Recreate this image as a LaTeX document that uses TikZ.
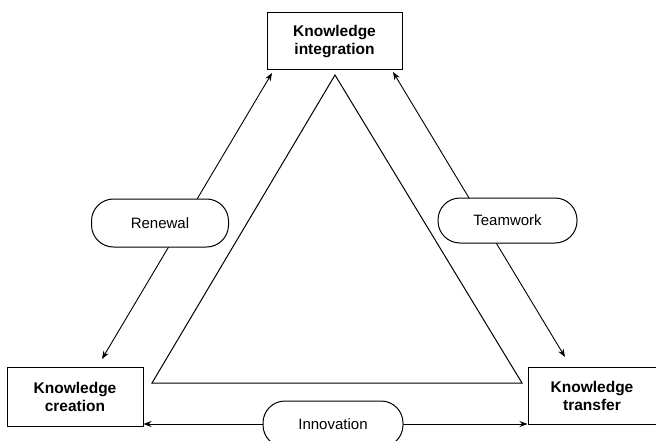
\documentclass[tikz,border=0pt]{standalone}
\usepackage{fontspec}
\setmainfont{Liberation Sans}
\usetikzlibrary{arrows.meta}
\begin{document}
\begin{tikzpicture}[x=1pt,y=-1pt,
  kbox/.style={draw,line width=1pt,fill=white,inner sep=0pt,align=center,
    font=\fontsize{15.5}{18}\selectfont\bfseries},
  pill/.style={draw,line width=1pt,fill=white,rounded corners=22pt,inner sep=0pt,
    font=\fontsize{15}{18}\selectfont},
  link/.style={line width=0.9pt,{Stealth[length=8pt,width=6pt]}-{Stealth[length=8pt,width=6pt]}},
  tri/.style={line width=1pt}]
\useasboundingbox (0,0) rectangle (656,441);
\clip (0,0) rectangle (656,441);
% boxes
\node[kbox,minimum width=135pt,minimum height=57pt] (integ) at (334.5,41.5) {Knowledge\\integration};
\node[kbox,minimum width=136pt,minimum height=59pt] (creat) at (75,396.5) {Knowledge\\creation};
\node[kbox,minimum width=128pt,minimum height=57pt] (trans) at (592,395.5) {Knowledge\\transfer};
% triangle
\coordinate (apex) at (335,75);
\coordinate (bl) at (152,383);
\coordinate (br) at (522,383);
\draw[tri] (apex) -- (bl) -- (br) -- cycle;
% connector endpoints
\coordinate (a1) at (272,73);
\coordinate (a2) at (102,359);
\coordinate (b1) at (393,72);
\coordinate (b2) at (565,357);
\draw[link] (a1) -- (a2);
\draw[link] (b1) -- (b2);
\draw[link] (creat.south east |- 0,424) coordinate (c1) -- (trans.south west |- 0,424) coordinate (c2);
% pills
\node[pill,minimum width=137pt,minimum height=48pt] (renew) at (160,223) {Renewal};
\node[pill,minimum width=139pt,minimum height=45pt] (team) at (507.5,220.5) {Teamwork};
\node[pill,minimum width=140pt,minimum height=46pt] (innov) at (333,424) {Innovation};
\end{tikzpicture}
\end{document}
